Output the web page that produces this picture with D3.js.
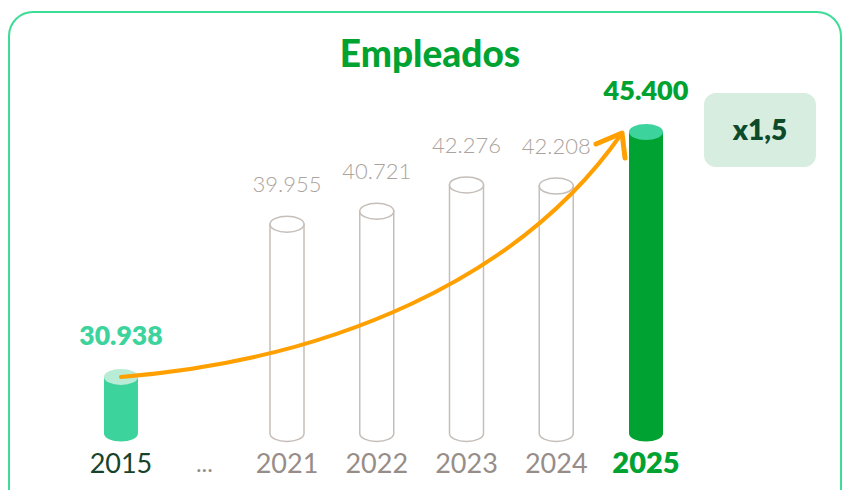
<!DOCTYPE html>
<meta charset="utf-8">
<style>
body { margin: 0; background: #fff; }
text { font-family: Lato, "Noto Sans", sans-serif; }
</style>
<svg width="844" height="490"></svg>
<script src="https://d3js.org/d3.v7.min.js"></script>
<script>

// data
var years = ["2015", "2021", "2022", "2023", "2024", "2025"];
var values = [30938, 39955, 40721, 42276, 42208, 45400];
var valueLabels = ["30.938", "39.955", "40.721", "42.276", "42.208", "45.400"];
var title = "Empleados";
var growth = "x1,5";

var svg = d3.select("svg");

// card border
svg.append("rect")
    .attr("x", 9).attr("y", 12)
    .attr("width", 832).attr("height", 520)
    .attr("rx", 24)
    .attr("fill", "#fff")
    .attr("stroke", "#3ddc97")
    .attr("stroke-width", 2);

svg.append("text")
    .attr("x", 430).attr("y", 67)
    .attr("text-anchor", "middle")
    .attr("font-size", 37).attr("font-weight", 900)
    .attr("fill", "#00a332")
    .text(title);

// x: the recent years sit on a regular step, 2015 is set further left after a gap
var recent = years.slice(1);
var x = d3.scalePoint().domain(recent).range([287, 646]);
var step = x.step();
function xPos(yr) { return yr === "2015" ? x("2021") - 1.85 * step : x(yr); }

var y = d3.scaleLinear().domain([27600, 45400]).range([433.5, 132]);
var base = y.range()[0];
var w = 34, ry = 8;

function body(cx, top) {
  return "M" + (cx - w / 2) + "," + top +
    "L" + (cx - w / 2) + "," + base +
    "A" + (w / 2) + "," + ry + " 0 0 0 " + (cx + w / 2) + "," + base +
    "L" + (cx + w / 2) + "," + top + "Z";
}

var data = years.map(function(d, i) {
  return { year: d, value: values[i], label: valueLabels[i], i: i };
});

function style(d) {
  if (d.year === "2015") return { fill: "#3dd39c", stroke: "none", cap: "#b8ecd6", val: "#3dd39c", valW: 800, valS: 26.5, yr: "#17432c", yrW: 400, yrS: 27 };
  if (d.year === "2025") return { fill: "#00a332", stroke: "none", cap: "#3dd39c", val: "#00a332", valW: 800, valS: 27, yr: "#00a332", yrW: 800, yrS: 29 };
  return { fill: "#fff", stroke: "#c5beb9", cap: "#fff", val: "#aba39e", valW: 300, valS: 22, yr: "#978d88", yrW: 400, yrS: 27 };
}

var g = svg.append("g");
var bars = g.selectAll("g.bar").data(data).enter().append("g").attr("class", "bar");

bars.append("path")
    .attr("d", function(d) { return body(xPos(d.year), y(d.value)); })
    .attr("fill", function(d) { return style(d).fill; })
    .attr("stroke", function(d) { return style(d).stroke; })
    .attr("stroke-width", 1.5);

bars.append("ellipse")
    .attr("cx", function(d) { return xPos(d.year); })
    .attr("cy", function(d) { return y(d.value); })
    .attr("rx", w / 2).attr("ry", ry)
    .attr("fill", function(d) { return style(d).cap; })
    .attr("stroke", function(d) { return style(d).stroke; })
    .attr("stroke-width", 1.5);

bars.append("text")
    .attr("x", function(d) { return xPos(d.year); })
    .attr("y", function(d) { return y(d.value) - 32; })
    .attr("text-anchor", "middle")
    .attr("font-size", function(d) { return style(d).valS; })
    .attr("font-weight", function(d) { return style(d).valW; })
    .attr("fill", function(d) { return style(d).val; })
    .text(function(d) { return d.label; });

bars.append("text")
    .attr("x", function(d) { return xPos(d.year); })
    .attr("y", 473)
    .attr("text-anchor", "middle")
    .attr("font-size", function(d) { return style(d).yrS; })
    .attr("font-weight", function(d) { return style(d).yrW; })
    .attr("fill", function(d) { return style(d).yr; })
    .text(function(d) { return d.year; });

svg.append("text")
    .attr("x", x("2021") - 0.92 * step).attr("y", 472)
    .attr("text-anchor", "middle")
    .attr("font-size", 24)
    .attr("fill", "#978d88")
    .text("...");

// growth arrow from the 2015 cap to the 2025 cap
var x0 = xPos("2015"), y0 = y(values[0]);
var x1 = x("2025") - 24, y1 = y(values[5]) + 1;
svg.append("path")
    .attr("d", "M" + x0 + "," + y0 + "C330,360 520,280 " + x1 + "," + y1)
    .attr("fill", "none")
    .attr("stroke", "#ffa000")
    .attr("stroke-width", 4)
    .attr("stroke-linecap", "round");
svg.append("path")
    .attr("d", "M" + (x1 - 26) + "," + (y1 + 11) + "L" + x1 + "," + y1 + "L" + (x1 + 3) + "," + (y1 + 25))
    .attr("fill", "none")
    .attr("stroke", "#ffa000")
    .attr("stroke-width", 5)
    .attr("stroke-linecap", "round")
    .attr("stroke-linejoin", "round");

// badge
svg.append("rect")
    .attr("x", 704).attr("y", 93)
    .attr("width", 112).attr("height", 74)
    .attr("rx", 12)
    .attr("fill", "#d6ede0");
svg.append("text")
    .attr("x", 760).attr("y", 140)
    .attr("text-anchor", "middle")
    .attr("font-size", 28).attr("font-weight", 800)
    .attr("fill", "#0d4a2b")
    .text(growth);

</script>
